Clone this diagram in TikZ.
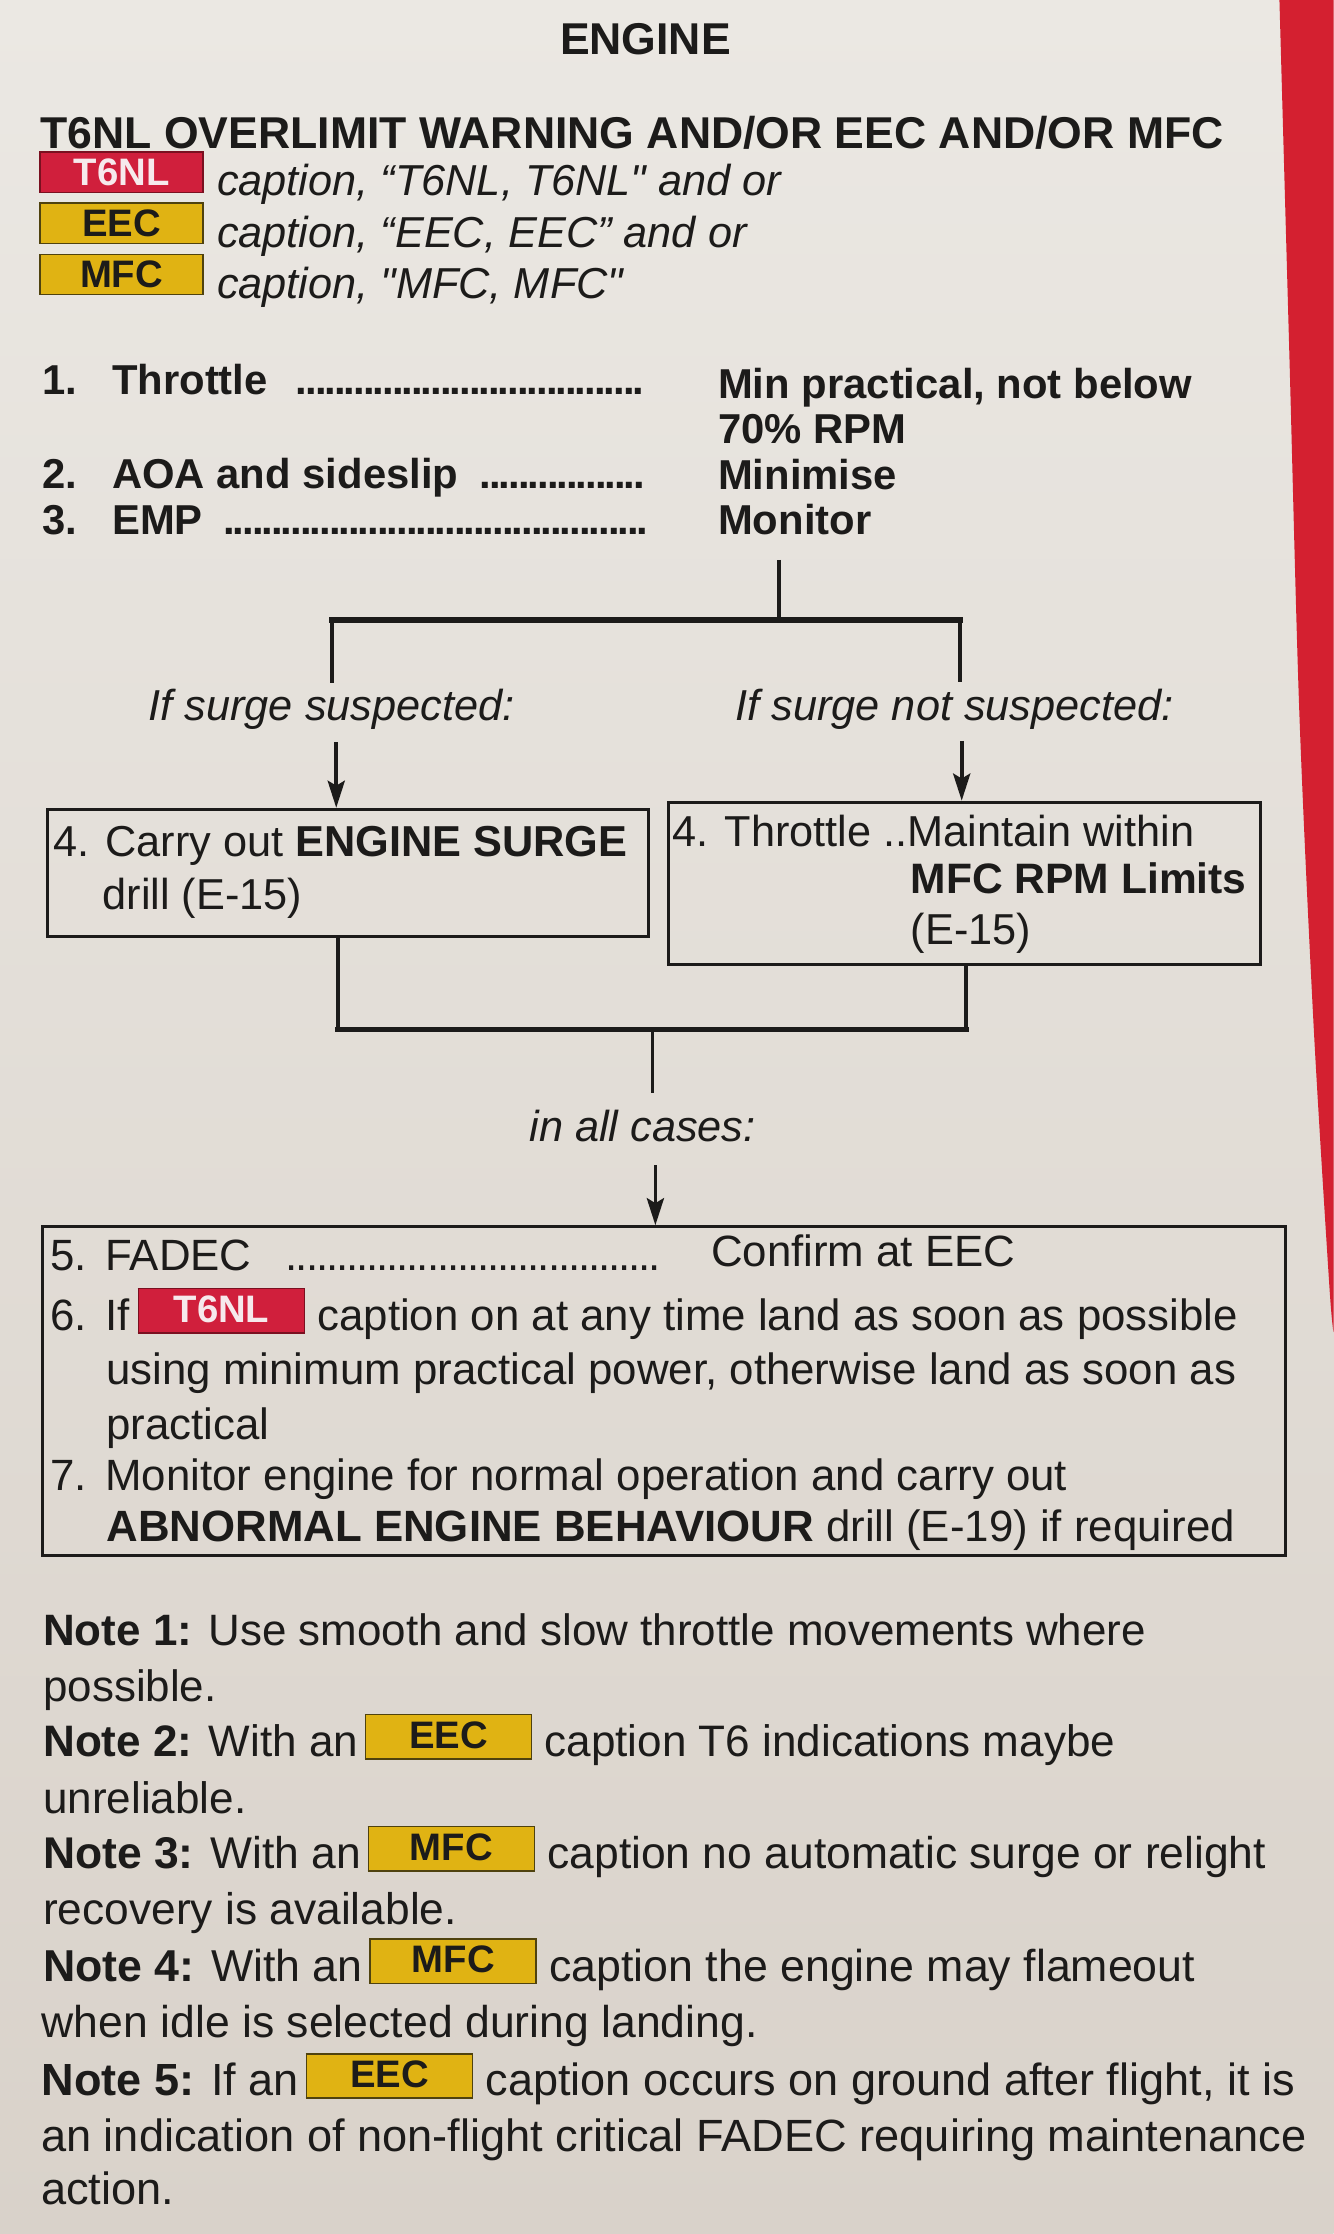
\documentclass[tikz,border=0pt]{standalone}
\usepackage{fontspec}
\setmainfont{Liberation Sans}
\usetikzlibrary{arrows.meta}
\definecolor{paperhi}{HTML}{EBE8E3}
\definecolor{paperlo}{HTML}{D9D2CA}
\definecolor{edgered}{HTML}{D42030}
\definecolor{ink}{HTML}{1C1B1A}
\definecolor{capred}{HTML}{D01F3C}
\definecolor{capredline}{HTML}{7A1020}
\definecolor{capyel}{HTML}{E0B313}
\definecolor{capyelline}{HTML}{4F420E}
\definecolor{capwhite}{HTML}{F6E9EC}
\begin{document}
\begin{tikzpicture}[x=0.02cm,y=-0.02cm,
  txt/.style={anchor=base west,inner sep=0pt,text=ink,font=\fontsize{17.3}{20}\selectfont},
  boxtxt/.style={txt,font=\fontsize{17.5}{20}\selectfont},
  notetxt/.style={txt,font=\fontsize{#1}{20}\selectfont},
  itxt/.style={txt,font=\fontsize{17.3}{20}\selectfont\itshape},
  btxt/.style={txt,font=\fontsize{16.7}{20}\selectfont\bfseries},
  headtxt/.style={txt,font=\fontsize{17.8}{20}\selectfont\bfseries},
  caseline/.style={itxt,anchor=base},
  capnode/.style={draw=capyelline,fill=capyel,line width=0.6pt,inner sep=0pt,
    minimum width=2.29cm,minimum height=0.566cm,text=ink,font=\fontsize{15.3}{16}\selectfont\bfseries},
  capnodered/.style={capnode,draw=capredline,fill=capred,text=capwhite},
  stepbox/.style={draw=ink,line width=1.2pt,inner sep=0pt},
  wire/.style={draw=ink,line width=1.5pt},
  bar/.style={wire,line width=2.3pt,line cap=rect},
  arrowwire/.style={wire,-{Stealth[length=0.38cm,width=0.24cm,inset=0.07cm]}}]
% page E-14
\def\chkdots#1{\hbox to #1{\leaders\hbox to 0.23em{\hss.\hss}\hfill}}
\def\capinline#1#2#3#4{{\setlength\fboxsep{0pt}\setlength\fboxrule{0.6pt}%
  \fcolorbox{#1}{#2}{\makebox[2.31cm]{\rule[-0.02cm]{0pt}{0.6cm}%
  \raisebox{0.12cm}{\fontsize{15.3}{16}\selectfont\bfseries\color{#3}#4}}}}}
\def\eecbox{\kern-0.08cm\capinline{capyelline}{capyel}{ink}{EEC}}
\def\mfcbox{\kern-0.08cm\capinline{capyelline}{capyel}{ink}{MFC}}
\def\tnlbox{\kern-0.06cm\capinline{capredline}{capred}{capwhite}{T6NL}}
\useasboundingbox (0,0) rectangle (936,1568);
\shade[top color=paperhi,bottom color=paperlo] (0,0) rectangle (936,1568);
\fill[edgered] plot[smooth] coordinates {(898,0) (905,250) (912,501) (922,720) (933,902) (936,935)} -- (936,0) -- cycle;
\node[headtxt,anchor=base] (engine) at (453,38.6) {ENGINE};
\node[headtxt] (title) at (28,104.5) {T6NL OVERLIMIT WARNING AND/OR EEC AND/OR MFC};
\node[capnodered] (capA) at (85.3,121) {T6NL};
\node[capnode] (capB) at (85.3,156.7) {EEC};
\node[capnode] (capC) at (85.3,192.6) {MFC};
\node[itxt] (capAtxt) at (152,137.5) {caption, “T6NL, T6NL\textquotedbl{} and or};
\node[itxt] (capBtxt) at (152,173.5) {caption, “EEC, EEC” and or};
\node[itxt] (capCtxt) at (152,209.5) {caption, \textquotedbl MFC, MFC\textquotedbl};
\node[btxt] (item1) at (29.2,277) {\makebox[0.984cm][l]{1.}Throttle};
\node[btxt] (dots1) at (208,277) {\chkdots{4.96cm}};
\node[btxt] (val1) at (503.7,280) {Min practical, not below};
\node[btxt] (val1b) at (503.7,311) {70\% RPM};
\node[btxt] (item2) at (29.2,343) {\makebox[0.984cm][l]{2.}AOA and sideslip};
\node[btxt] (dots2) at (337,343) {\chkdots{2.38cm}};
\node[btxt] (val2) at (503.7,343.5) {Minimise};
\node[btxt] (item3) at (29.2,375.5) {\makebox[0.984cm][l]{3.}EMP};
\node[btxt] (dots3) at (157,375.5) {\chkdots{5.98cm}};
\node[btxt] (val3) at (503.7,375.5) {Monitor};
\coordinate (trunk) at (547,393);
\coordinate (fork) at (547,435);
\coordinate (forkL) at (233,435);
\coordinate (forkR) at (673.6,435);
\coordinate (dropL) at (233,479.5);
\coordinate (dropR) at (673.6,479);
\draw[wire] (trunk) -- (fork);
\draw[wire] (forkL) -- (dropL);
\draw[wire] (forkR) -- (dropR);
\draw[bar] (forkL) -- (forkR);
\node[caseline] (ifsurge) at (232.7,506) {If surge suspected:};
\node[caseline] (ifnosurge) at (670,506) {If surge not suspected:};
\node[stepbox,minimum width=8.44cm,minimum height=1.78cm] (surge) at (244,612.5) {};
\node[stepbox,minimum width=8.32cm,minimum height=2.28cm] (nosurge) at (677,620) {};
\coordinate (inL) at (236,521);
\coordinate (inR) at (675,520);
\draw[arrowwire] (inL) -- (inL |- surge.north);
\draw[arrowwire] (inR) -- (inR |- nosurge.north);
\node[txt] (surge1) at (37,601) {4. Carry out \textbf{ENGINE SURGE}};
\node[txt] (surge2) at (71.7,638.6) {drill (E-15)};
\node[txt] (nosurge1) at (471.8,594) {4. Throttle ..Maintain within};
\node[txt,font=\fontsize{17}{20}\selectfont\bfseries] (nosurge2) at (639,627) {MFC RPM Limits};
\node[txt] (nosurge3) at (639,663) {(E-15)};
\coordinate (joinL) at (237,722.5);
\coordinate (joinR) at (678,722.5);
\coordinate (join) at (458,722.5);
\coordinate (joinEnd) at (458,767);
\draw[wire] (surge.south -| joinL) -- (joinL);
\draw[wire] (nosurge.south -| joinR) -- (joinR);
\draw[bar] (joinL) -- (joinR);
\draw[wire] (join) -- (joinEnd);
\node[caseline] (allcases) at (451,801) {in all cases:};
\node[stepbox,minimum width=17.44cm,minimum height=4.62cm] (common) at (466,976.5) {};
\coordinate (inC) at (460,818);
\draw[arrowwire] (inC) -- (inC |- common.north);
\node[boxtxt] (line5) at (35,892) {\makebox[0.774cm][l]{5.}FADEC};
\node[boxtxt] (dots5) at (201,892) {\chkdots{5.34cm}};
\node[boxtxt] (val5) at (498.7,889) {Confirm at EEC};
\node[boxtxt] (line6) at (35,934) {\makebox[0.774cm][l]{6.}If \tnlbox{} caption on at any time land as soon as possible};
\node[boxtxt] (line6b) at (74.4,972) {using minimum practical power, otherwise land as soon as};
\node[boxtxt] (line6c) at (74.4,1010.5) {practical};
\node[boxtxt] (line7) at (35,1046) {\makebox[0.774cm][l]{7.}Monitor engine for normal operation and carry out};
\node[boxtxt] (line7b) at (74.4,1082) {\textbf{ABNORMAL ENGINE BEHAVIOUR} drill (E-19) if required};
\node[notetxt=17.55] (note1) at (30,1155) {\textbf{Note 1:} Use smooth and slow throttle movements where};
\node[notetxt=17.55] (note1b) at (30,1194) {possible.};
\node[notetxt=17.6] (note2) at (30,1233) {\textbf{Note 2:} With an \eecbox{} caption T6 indications maybe};
\node[notetxt=17.6] (note2b) at (30,1272.5) {unreliable.};
\node[notetxt=17.75] (note3) at (30,1311.5) {\textbf{Note 3:} With an \mfcbox{} caption no automatic surge or relight};
\node[notetxt=17.7] (note3b) at (30,1351) {recovery is available.};
\node[notetxt=17.85] (note4) at (30,1390.5) {\textbf{Note 4:} With an \mfcbox{} caption the engine may flameout};
\node[notetxt=17.8] (note4b) at (29,1430) {when idle is selected during landing.};
\node[notetxt=18] (note5) at (29,1471) {\textbf{Note 5:} If an \eecbox{} caption occurs on ground after flight, it is};
\node[notetxt=18.05] (note5b) at (28.5,1510) {an indication of non-flight critical FADEC requiring maintenance};
\node[notetxt=18.05] (note5c) at (28.5,1547) {action.};
\end{tikzpicture}
\end{document}
